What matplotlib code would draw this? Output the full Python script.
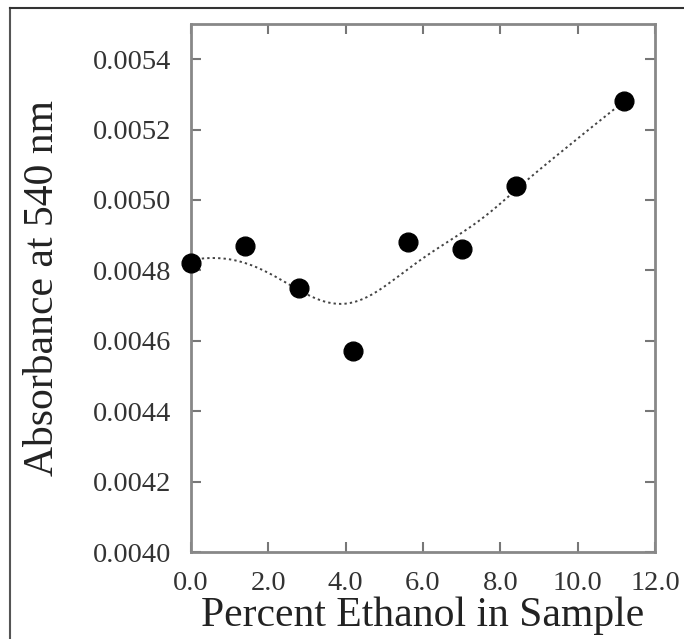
import matplotlib
matplotlib.use("Agg")
import matplotlib.pyplot as plt
import numpy as np

# data
ethanol = [0.0, 1.4, 2.8, 4.2, 5.6, 7.0, 8.4, 11.2]
absorbance = [0.00482, 0.00487, 0.00475, 0.00457, 0.00488, 0.00486, 0.00504, 0.00528]
x_ticks = [0.0, 2.0, 4.0, 6.0, 8.0, 10.0, 12.0]
y_ticks = [0.0040, 0.0042, 0.0044, 0.0046, 0.0048, 0.0050, 0.0052, 0.0054]


def smooth(x, y, xs, s):
    '''
    Gaussian weighted local linear fit of the points (the dotted curve).
    '''
    x = np.asarray(x)
    y = np.asarray(y)
    out = []
    for x0 in xs:
        w = np.sqrt(np.exp(-0.5 * ((x - x0) / s) ** 2))
        A = np.vstack([np.ones_like(x), x - x0]).T
        b = np.linalg.lstsq(w[:, None] * A, w * y, rcond=None)[0]
        out.append(b[0])
    return np.array(out)


plt.rcParams['font.family'] = ['Liberation Serif', 'DejaVu Serif']

fig = plt.figure(figsize=(6.84, 6.39), dpi=100)
ax = fig.add_axes([191/684, 1 - 552/639, (655 - 191)/684, (552 - 24)/639])

xs = np.linspace(0, 11.2, 200)
ax.plot(xs, smooth(ethanol, absorbance, xs, 1.25), linestyle=(0, (1.2, 1.6)),
        color='#444444', lw=1.4)

ax.plot(ethanol, absorbance, 'o', color='black', ms=13.5, clip_on=False, zorder=3)

ax.set_xlim(0, 12)
ax.set_ylim(0.0040, 0.0055)
ax.set_xticks(x_ticks)
ax.set_xticklabels(['%.1f' % v for v in x_ticks])
ax.set_yticks(y_ticks)
ax.set_yticklabels(['%.4f' % v for v in y_ticks])
ax.tick_params(direction='in', top=True, right=True, length=7, width=1.5,
               color='#777777', labelsize=20.5, labelcolor='#333333')
ax.tick_params(axis='x', pad=14)
ax.tick_params(axis='y', pad=14)
for s in ax.spines.values():
    s.set_color('#888888')
    s.set_linewidth(2)

ax.set_xlabel('Percent Ethanol in Sample', fontsize=30, color='#222222', labelpad=0)
ax.set_ylabel('Absorbance at 540 nm', fontsize=30, color='#222222')
ax.yaxis.set_label_coords(-0.279, 0.5)

# outer frame of the picture
fig.add_artist(plt.Line2D([10/684, 10/684], [0, 1 - 8/639], transform=fig.transFigure,
                          color='#555555', lw=1.5))
fig.add_artist(plt.Line2D([10/684, 1], [1 - 8/639, 1 - 8/639], transform=fig.transFigure,
                          color='#333333', lw=1.5))

fig.savefig('out.png', dpi=100)
